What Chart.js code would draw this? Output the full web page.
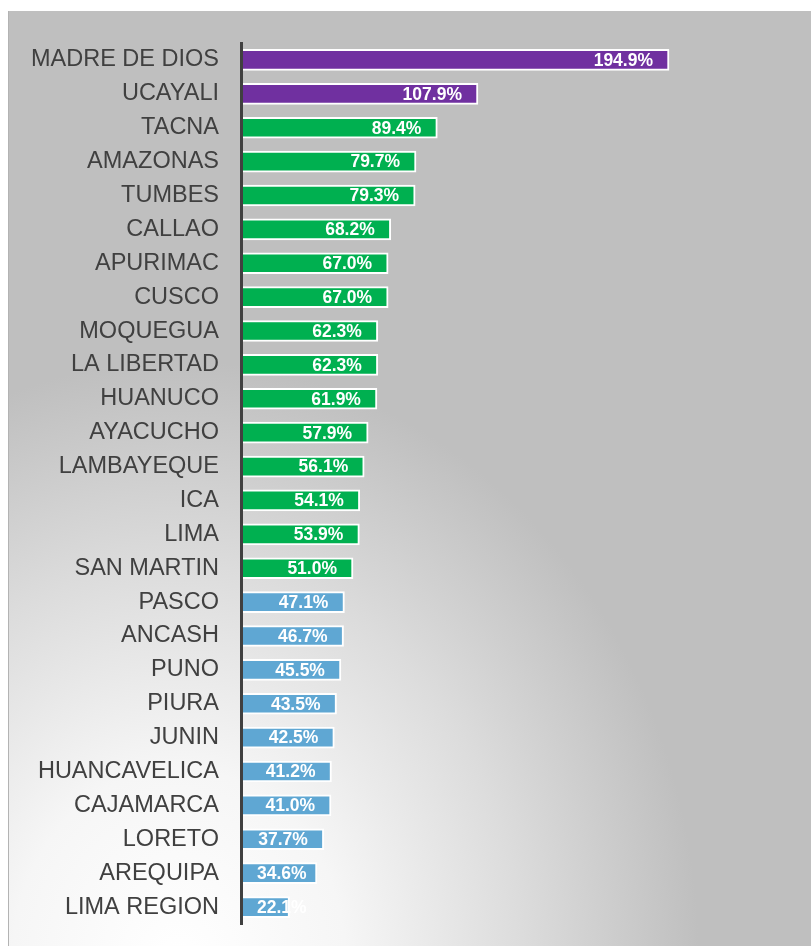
<!DOCTYPE html>
<html>
<head>
<meta charset="utf-8">
<script src="https://cdn.jsdelivr.net/npm/chart.js@4/dist/chart.umd.min.js"></script>
<style>
  html, body { margin: 0; padding: 0; background: #ffffff; }
  #wrap { position: relative; width: 811px; height: 946px; overflow: hidden; background: #ffffff; }
  #bg { position: absolute; left: 8px; top: 11px; right: 0; bottom: 0;
        border-left: 1.5px solid #b3b3b3;
        background: radial-gradient(ellipse 520px 600px at 170px 950px, #ffffff 0%, #f6f6f6 32%, #dcdcdc 66%, #bfbfbf 100%); }
  #c { position: absolute; left: 0; top: 0; }
</style>
</head>
<body>
<div id="wrap">
  <div id="bg"></div>
  <canvas id="c" width="811" height="946"></canvas>
</div>
<script>
const categories = ["MADRE DE DIOS","UCAYALI","TACNA","AMAZONAS","TUMBES","CALLAO","APURIMAC","CUSCO","MOQUEGUA","LA LIBERTAD","HUANUCO","AYACUCHO","LAMBAYEQUE","ICA","LIMA","SAN MARTIN","PASCO","ANCASH","PUNO","PIURA","JUNIN","HUANCAVELICA","CAJAMARCA","LORETO","AREQUIPA","LIMA REGION"];
const values = [194.9,107.9,89.4,79.7,79.3,68.2,67.0,67.0,62.3,62.3,61.9,57.9,56.1,54.1,53.9,51.0,47.1,46.7,45.5,43.5,42.5,41.2,41.0,37.7,34.6,22.1];
const groups = ["top","top","high","high","high","high","high","high","high","high","high","high","high","high","high","high","mid","mid","mid","mid","mid","mid","mid","mid","mid","mid"];
const groupColors = { top: "#7030a0", high: "#00b050", mid: "#5fa7d3" };

const FONT = "'Liberation Sans', Arial, sans-serif";

const valueLabels = {
  id: "valueLabels",
  afterDatasetsDraw(chart) {
    const ctx = chart.ctx;
    const meta = chart.getDatasetMeta(0);
    ctx.save();
    ctx.font = "bold 17.5px " + FONT;
    ctx.fillStyle = "#ffffff";
    ctx.textBaseline = "middle";
    ctx.textAlign = "left";
    meta.data.forEach((bar, i) => {
      const txt = values[i].toFixed(1) + "%";
      const w = ctx.measureText(txt).width;
      const left = Math.max(bar.x - 16 - w, bar.base + 16);
      ctx.fillText(txt, left, bar.y + 1);
    });
    ctx.restore();
  }
};

new Chart(document.getElementById("c"), {
  type: "bar",
  data: {
    labels: categories,
    datasets: [{
      data: values,
      backgroundColor: groups.map(g => groupColors[g]),
      borderColor: "#ffffff",
      borderWidth: 2,
      borderSkipped: false,
      barThickness: 21
    }]
  },
  options: {
    indexAxis: "y",
    responsive: false,
    animation: false,
    devicePixelRatio: 1,
    layout: { padding: { top: 43, bottom: 22, left: 0, right: 21 } },
    plugins: { legend: { display: false }, tooltip: { enabled: false } },
    scales: {
      x: {
        display: false,
        min: 0,
        max: 250
      },
      y: {
        afterFit(scale) { scale.width = 241; scale.paddingTop = 0; scale.paddingBottom = 0; },
        grid: { display: false, drawTicks: false },
        border: { display: true, color: "#404040", width: 3, z: 2 },
        ticks: {
          padding: 22,
          color: "#404040",
          font: { family: FONT, size: 23.5 }
        }
      }
    }
  },
  plugins: [valueLabels]
});
</script>
</body>
</html>
